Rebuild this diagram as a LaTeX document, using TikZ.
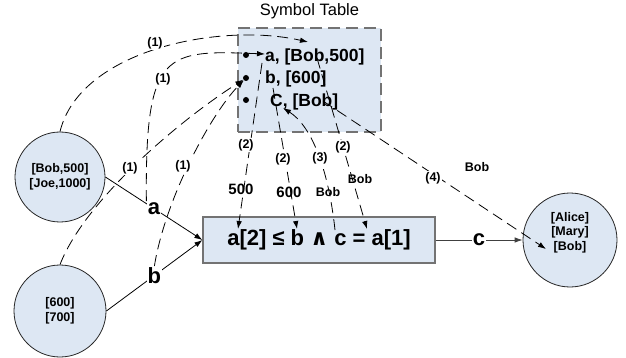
\documentclass[tikz,border=0pt]{standalone}
\usepackage{fontspec}
\setmainfont{Liberation Sans}
\newfontfamily\symfont{DejaVu Sans}
\usetikzlibrary{arrows.meta,calc}

\definecolor{tblfill}{RGB}{221,231,243}
\definecolor{edgegray}{RGB}{115,115,115}
\newcommand{\pxfont}[2]{\fontsize{#1}{#2}\selectfont}

\begin{document}
\begin{tikzpicture}[
    x=1pt, y=-1pt,
    store/.style={circle, draw=black!85, line width=0.8pt, fill=tblfill, inner sep=0pt, align=center, font=\pxfont{12.5}{14.5}\bfseries},
    entry/.style={anchor=west, inner sep=0pt, font=\pxfont{17.5}{18}\bfseries},
    dot/.style={circle, fill=black, inner sep=0pt, minimum size=6pt},
    flow/.style={-{Latex[length=8pt,width=5.5pt]}, line width=0.8pt},
    ref/.style={flow, dash pattern=on 11pt off 6pt},
    stepno/.style={fill=white, inner sep=1pt, font=\pxfont{12.5}{13}\bfseries},
    val/.style={inner sep=0pt, font=\pxfont{15}{15}\bfseries},
    who/.style={inner sep=0pt, font=\pxfont{12.5}{13}\bfseries},
    var/.style={fill=white, inner sep=1pt, font=\pxfont{22}{22}\bfseries},
]
\useasboundingbox (0,0) rectangle (626,358);

% --- Symbol table ---
\node[draw=edgegray, fill=tblfill, line width=2pt, dash pattern=on 12pt off 6pt,
      minimum width=143pt, minimum height=104pt, inner sep=0pt] (st) at (309.5,80) {};
\node[font=\pxfont{16.5}{16.5}] (sttitle) at (309.5,11) {Symbol Table};

\node[entry] (ea) at (265,57) {a, [Bob,500]};
\node[entry] (eb) at (265,79) {b, [600]};
\node[entry] (ec) at (270,102) {C, [Bob]};
\node[dot] (ba) at (246,55) {};
\node[dot] (bb) at (246,78) {};
\node[dot] (bc) at (246,100) {};

% --- Stores and condition ---
\node[store, minimum size=90pt] (c1) at (60,177) {[Bob,500]\\{[Joe,1000]}};
\node[store, minimum size=92pt] (c2) at (60,311) {[600]\\{[700]}};
\node[store, minimum size=94pt] (c3) at (570,240) {[Alice]\\{[Mary]}\\{[Bob]}\\[3pt]};

\node[draw=edgegray, fill=tblfill, line width=1.2pt, minimum width=232pt, minimum height=46pt,
      font=\pxfont{22}{22}\bfseries] (cond) at (319,240) {a[2] ≤ b {\symfont ∧} c = a[1]};

% --- Solid flow ---
\draw[flow] (c1.east) -- node[var] (la) {a} (cond.west);
\draw[flow] (c2.east) -- node[var] (lb) {b} (cond.west);
\draw[flow, draw=black!75] (cond.east) -- node[var] (lc) {c} (c3.west);

% --- Step (1): values into the table ---
\coordinate (topin) at (308,42);
\draw[ref] (c1.north) .. controls (80,50) and (220,22) .. (topin);
\draw[ref] (la.north west) .. controls (145,50) and (165,50) .. ($(ea.west)+(0,-3)$);
\draw[ref] (c2.north) .. controls (85,200) and (180,120) .. (bb);
\draw[ref] (lb.north) .. controls (165,200) and (210,115) .. (bb);

% --- Step (2)/(3): table to condition and back ---
\coordinate (a2src) at (262,63);
\coordinate (a2dst) at (238,229);
\coordinate (b2src) at (273,88);
\coordinate (b2dst) at (297,229);
\coordinate (bobsrc) at (317,58);
\coordinate (bobdst) at (367,229);
\coordinate (csrc) at (335,230);
\coordinate (cdst) at (283,108);
\draw[ref] (a2src) -- (a2dst);
\draw[ref] (b2src) -- (b2dst);
\draw[ref] (bobsrc) -- (bobdst);
\draw[ref] (csrc) .. controls (328,165) and (310,125) .. (cdst);

% --- Step (4): result to output store ---
\coordinate (outsrc) at (323,101);
\coordinate (outdst) at (546,249);
\draw[ref] (outsrc) -- (outdst);

% --- Labels ---
\node[stepno] (s1a) at (155,43) {(1)};
\node[stepno] (s1b) at (163,79) {(1)};
\node[stepno] (s1c) at (130,168) {(1)};
\node[stepno] (s1d) at (183,166) {(1)};
\node[stepno] (s2a) at (246,145) {(2)};
\node[stepno] (s2b) at (283,159) {(2)};
\node[stepno] (s2c) at (343,147) {(2)};
\node[stepno] (s3) at (320,158) {(3)};
\node[stepno] (s4) at (433,178) {(4)};

\node[val] (v500) at (241,189) {500};
\node[val] (v600) at (289,192) {600};
\node[who] (vbob3) at (328,192) {Bob};
\node[who] (vbob2) at (360,179) {Bob};
\node[who] (vbob4) at (477,167) {Bob};

\end{tikzpicture}
\end{document}
